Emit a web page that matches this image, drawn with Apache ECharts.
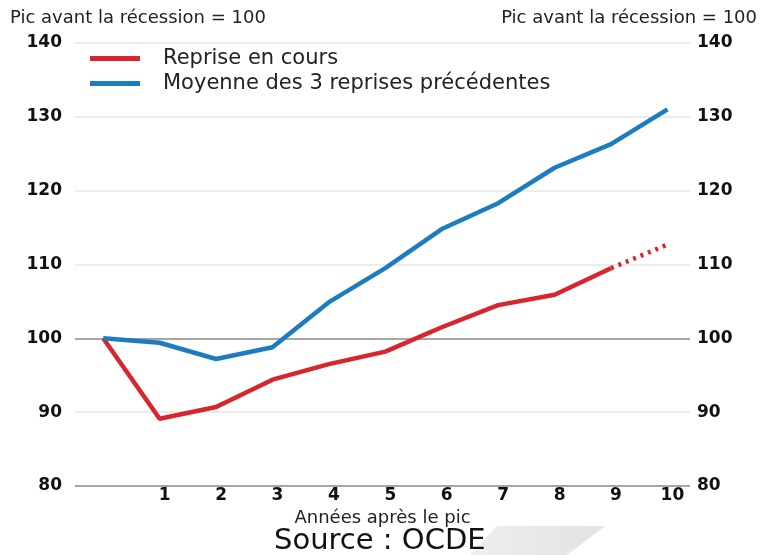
<!DOCTYPE html>
<html>
<head>
<meta charset="utf-8">
<script src="https://cdn.jsdelivr.net/npm/echarts@6/dist/echarts.min.js"></script>
<style>
    html, body {margin: 0; padding: 0; background: #fff;}
    #chart {width: 763px; height: 555px;}
</style>
</head>
<body>
<div id="chart"></div>
<script>
// années après le pic
var years = [0, 1, 2, 3, 4, 5, 6, 7, 8, 9, 10];
var tickYears = [1, 2, 3, 4, 5, 6, 7, 8, 9, 10];
var reprise = [100, 89.1, 90.7, 94.4, 96.5, 98.2, 101.5, 104.5, 105.9, 109.5];
var projection = [109.5, 112.7];
var projectionYears = [9, 10];
var moyenne = [100, 99.4, 97.2, 98.8, 104.9, 109.5, 114.8, 118.3, 123.1, 126.3, 131.0];

var FONT = 'DejaVu Sans, Liberation Sans, sans-serif';
var RED = '#d9262e';
var BLUE = '#1b7dc0';

function pairs(xs, ys) {
    return ys.map(function (v, i) { return [xs[i], v]; });
}

var yAxisCommon = {
    type: 'value',
    min: 80,
    max: 140,
    interval: 10,
    axisLine: {show: false},
    axisTick: {show: false},
    splitLine: {show: false},
    axisLabel: {fontFamily: FONT, fontWeight: 'bold', fontSize: 17, color: '#111'}
};

var myChart = echarts.init(document.getElementById('chart'));
myChart.setOption({
    animation: false,
    title: [
        {text: 'Pic avant la récession = 100', left: 10, top: 9, padding: 0,
            textStyle: {fontFamily: FONT, fontWeight: 'normal', fontSize: 18, color: '#222'}},
        {text: 'Pic avant la récession = 100', right: 6, top: 9, padding: 0,
            textStyle: {fontFamily: FONT, fontWeight: 'normal', fontSize: 18, color: '#222'}},
        {text: 'Source : OCDE', left: 274, top: 527, padding: 0,
            textStyle: {fontFamily: FONT, fontWeight: 'normal', fontSize: 29, color: '#111'}}
    ],
    graphic: [
        {type: 'polygon', z: -1, shape: {points: [[497, 526], [605, 526], [567, 555], [470, 555]]},
            style: {fill: new echarts.graphic.LinearGradient(0, 0, 1, 0, [
                {offset: 0, color: '#eeeeee'}, {offset: 1, color: '#e3e3e3'}
            ])}}
    ],
    legend: {
        orient: 'vertical',
        left: 85,
        top: 43,
        itemWidth: 50,
        itemHeight: 5,
        itemGap: 4,
        icon: 'rect',
        data: ['Reprise en cours', 'Moyenne des 3 reprises précédentes'],
        textStyle: {fontFamily: FONT, fontSize: 21, color: '#222', padding: [0, 0, 0, 18]}
    },
    grid: {left: 75, right: 73, top: 43, bottom: 69},
    xAxis: {
        type: 'value',
        min: -0.5,
        max: 10.4,
        name: 'Années après le pic',
        nameLocation: 'middle',
        nameGap: 19,
        nameTextStyle: {fontFamily: FONT, fontSize: 18, color: '#222'},
        axisLine: {show: false},
        axisTick: {show: false},
        splitLine: {show: false},
        axisLabel: {
            customValues: tickYears,
            fontFamily: FONT, fontWeight: 'bold', fontSize: 17, color: '#111',
            margin: 1,
            padding: [0, 0, 0, 10]
        }
    },
    yAxis: [
        Object.assign({}, yAxisCommon, {
            position: 'left',
            axisLabel: Object.assign({}, yAxisCommon.axisLabel, {margin: 13}),
            splitLine: {show: true, lineStyle: {color: ['#888', '#e6e6e6', '#888', '#e6e6e6', '#e6e6e6', '#e6e6e6', '#e6e6e6'], width: 1.5}}
        }),
        Object.assign({}, yAxisCommon, {
            position: 'right',
            axisLabel: Object.assign({}, yAxisCommon.axisLabel, {margin: 7})
        })
    ],
    series: [
        {
            name: 'Reprise en cours',
            type: 'line',
            data: pairs(years, reprise),
            showSymbol: false,
            color: RED,
            lineStyle: {width: 4.5, color: RED}
        },
        {
            name: 'Reprise en cours (prévision)',
            type: 'line',
            data: pairs(projectionYears, projection),
            showSymbol: false,
            color: RED,
            lineStyle: {width: 4.5, color: RED, type: [3, 5]}
        },
        {
            name: 'Moyenne des 3 reprises précédentes',
            type: 'line',
            data: pairs(years, moyenne),
            showSymbol: false,
            color: BLUE,
            lineStyle: {width: 4.5, color: BLUE}
        }
    ]
});
</script>
</body>
</html>
